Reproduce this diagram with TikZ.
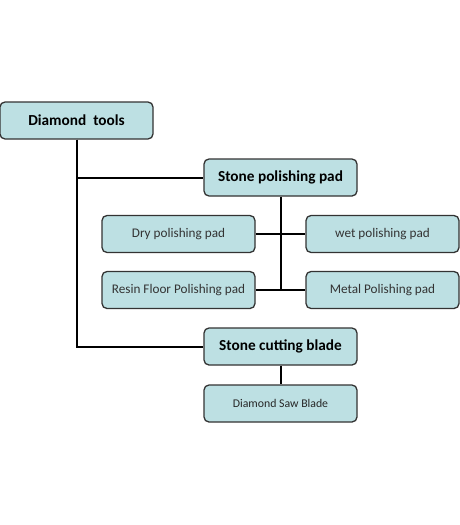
\documentclass[tikz,border=0pt]{standalone}
\usepackage{fontspec}
\setmainfont{Carlito}
\usepackage{tikz}

\definecolor{boxfill}{HTML}{BDE0E3}
\definecolor{boxline}{HTML}{333333}

\tikzset{
	tbox/.style={draw=boxline, line width=1.3pt, fill=boxfill, rounded corners=5pt,
		minimum width=153pt, minimum height=37pt, inner sep=0pt, align=center},
	head/.style={tbox, font=\fontsize{15.3}{18}\selectfont\bfseries},
	leaf/.style={tbox, font=\fontsize{13.2}{16}\selectfont, text=black!80},
	small/.style={tbox, font=\fontsize{11.8}{14}\selectfont, text=black!85},
	link/.style={line width=2pt, black}
}

\begin{document}
\begin{tikzpicture}[x=1pt, y=-1pt]
					\useasboundingbox (0,0) rectangle (460,525);

					\node (dt) [head] at (76.5,120.5) {Diamond\ \ tools};
					\node (spp) [head] at (280.5,177.5) {Stone polishing pad};
					\node (dry) [leaf] at (178.5,234) {Dry polishing pad};
					\node (wet) [leaf] at (382.5,234) {wet polishing pad};
					\node (rfp) [leaf] at (178.5,290) {Resin Floor Polishing pad};
					\node (mpp) [leaf] at (382.5,290) {Metal Polishing pad};
					\node (scb) [head] at (280.5,346.5) {Stone cutting blade};
					\node (dsb) [small] at (280.5,403.5) {Diamond Saw Blade};

					\coordinate (sppend) at (spp.south |- rfp.east);

					\draw [link] (dt.south) |- (spp.west);
					\draw [link] (dt.south) |- (scb.west);
					\draw [link] (spp.south) -- (sppend);
					\draw [link] (dry.east) -- (wet.west);
					\draw [link] (rfp.east) -- (mpp.west);
					\draw [link] (scb.south) -- (dsb.north);
\end{tikzpicture}
\end{document}
